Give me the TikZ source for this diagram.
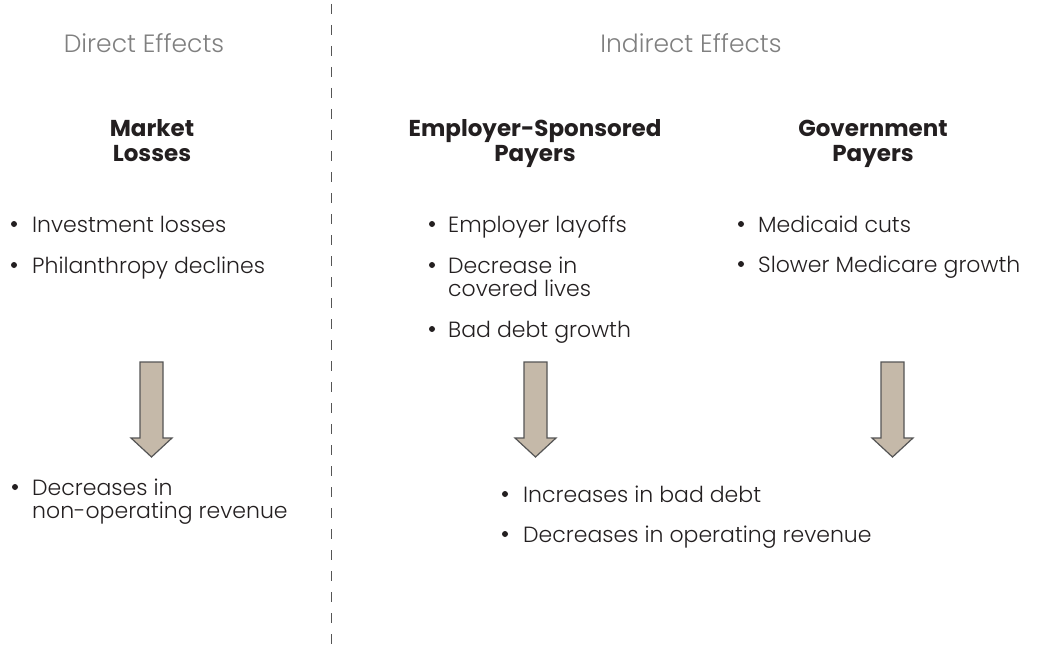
\documentclass[tikz,border=0pt]{standalone}
\usepackage{fontspec}
\setmainfont{Poppins}
\newfontfamily\lightfont{Poppins Light}
\definecolor{txt}{HTML}{231F20}
\definecolor{ttl}{HTML}{808080}
\definecolor{arrfill}{HTML}{C5B9A9}
\definecolor{arredge}{HTML}{555555}
\begin{document}
\begin{tikzpicture}[x=1pt,y=-1pt,
  body/.style={anchor=base west, inner sep=0pt, text=txt, font=\lightfont\fontsize{22}{23}\selectfont},
  head/.style={anchor=base, inner sep=0pt, text=txt, font=\fontsize{23}{24}\selectfont\bfseries},
  title/.style={anchor=base, inner sep=0pt, text=ttl, font=\lightfont\fontsize{25}{26}\selectfont},
  dot/.style={circle, fill=txt, inner sep=0pt, minimum size=6pt},
  divider/.style={draw=arredge, line width=1pt, dash pattern=on 10pt off 11pt},
  downarrow/.pic={\draw[fill=arrfill, draw=arredge, line width=1.2pt, line join=miter]
     (-11.5,0) -- (11.5,0) -- (11.5,76) -- (20.5,76) -- (0,95) -- (-20.5,76) -- (-11.5,76) -- cycle;}
]
\useasboundingbox (0,0) rectangle (1040,647);

% divider
\coordinate (dtop) at (331,4);
\coordinate (dbot) at (331,647);
\draw[divider] (dtop) -- (dbot);

% titles
\node[title] (tdirect) at (144,53) {Direct Effects};
\node[title] (tindirect) at (691,53) {Indirect Effects};

% headers
\node[head] (h1a) at (152,137) {Market};
\node[head] (h1b) at (152,161) {Losses};
\node[head] (h2a) at (535,137) {Employer-Sponsored};
\node[head] (h2b) at (535,161) {Payers};
\node[head] (h3a) at (873,137) {Government};
\node[head] (h3b) at (873,161) {Payers};

% left list
\node[dot] (b1) at (14,224) {};
\node[body] (l1) at (32,232) {Investment losses};
\node[dot] (b2) at (14,265) {};
\node[body] (l2) at (32,273) {Philanthropy declines};

% middle list
\node[dot] (b3) at (432,224) {};
\node[body] (m1) at (448,232) {Employer layoffs};
\node[dot] (b4) at (432,265) {};
\node[body] (m2) at (448,273) {Decrease in};
\node[body] (m2b) at (448,296) {covered lives};
\node[dot] (b5) at (432,329) {};
\node[body] (m3) at (448,337) {Bad debt growth};

% right list
\node[dot] (b6) at (741,224) {};
\node[body] (r1) at (758,232) {Medicaid cuts};
\node[dot] (b7) at (741,264) {};
\node[body] (r2) at (758,272) {Slower Medicare growth};

% arrows
\pic at (151.5,362) {downarrow};
\pic at (535.5,362) {downarrow};
\pic at (892.5,362) {downarrow};

% bottom left
\node[dot] (b8) at (15,487) {};
\node[body] (bl1) at (32,495) {Decreases in};
\node[body] (bl2) at (32,518) {non-operating revenue};

% bottom middle
\node[dot] (b9) at (505,494) {};
\node[body] (bm1) at (523,502) {Increases in bad debt};
\node[dot] (b10) at (505,534) {};
\node[body] (bm2) at (523,542) {Decreases in operating revenue};
\end{tikzpicture}
\end{document}
